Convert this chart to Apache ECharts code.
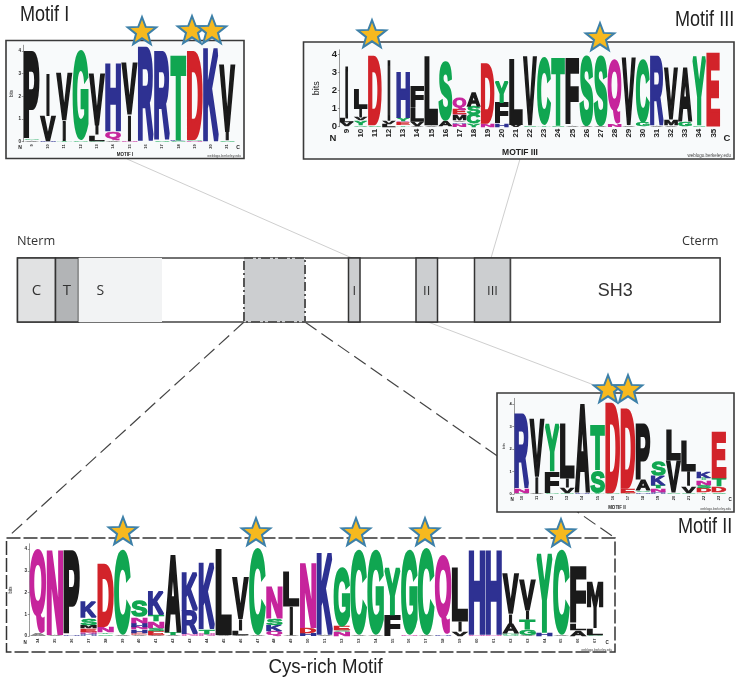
<!DOCTYPE html>
<html>
<head>
<meta charset="utf-8">
<style>html,body{margin:0;padding:0;background:#fff}#c{width:740px;height:687px}</style>
<script src="https://cdn.jsdelivr.net/npm/echarts@6/dist/echarts.min.js"></script>
</head>
<body>
<div id="c"></div>
<script>
// ---------- DATA: sequence logos, each column listed bottom to top as [residue, bits] ----------
const motif1Positions = ['9','10','11','12','13','14','15','16','17','18','19','20','21'];
const motif1Stacks = [
  [['A',.05],['S',.05],['P',3.87]],
  [['H',.03],['V',1.12],['I',1.9]],
  [['T',.03],['I',.9],['V',2.1]],
  [['S',.05],['G',3.98]],
  [['S',.03],['L',.27],['I',.42],['V',2.28]],
  [['A',.05],['Q',.42],['H',3.03]],
  [['N',.03],['I',1.15],['V',2.32]],
  [['R',4.15]],
  [['S',.07],['R',3.88]],
  [['S',.05],['K',.05],['T',3.8]],
  [['N',.05],['S',.03],['D',3.92]],
  [['K',4.15]],
  [['S',.07],['I',.35],['V',2.95]]
];
const motif2Positions = ['10','11','12','13','14','15','16','17','18','19','20','21','22','23'];
const motif2Stacks = [
  [['S',.05],['N',.2],['R',3.33]],
  [['A',.03],['I',.75],['V',2.55]],
  [['S',.05],['F',.95],['Y',2.14]],
  [['S',.03],['V',.27],['I',.4],['L',2.44]],
  [['H',.05],['A',3.98]],
  [['T',.05],['S',1.0],['T',2.01]],
  [['S',.05],['D',3.98]],
  [['T',.05],['E',.2],['D',3.55]],
  [['H',.08],['S',.07],['A',.47],['P',2.52]],
  [['H',.1],['N',.15],['T',.13],['K',.42],['S',.63]],
  [['S',.05],['V',1.45],['L',1.35]],
  [['S',.03],['V',.32],['I',.65],['L',1.4]],
  [['T',.07],['D',.18],['S',.15],['N',.2],['T',.1],['K',.29]],
  [['S',.08],['D',.27],['T',.35],['E',2.07]]
];
const motif3Positions = ['9','10','11','12','13','14','15','16','17','18','19','20','21','22','23','24','25','26','27','28','29','30','31','32','33','34','35'];
const motif3Stacks = [
  [['V',.25],['L',.2],['I',2.95]],
  [['C',.1],['Y',.25],['V',.15],['I',.5],['L',1.1]],
  [['S',.08],['D',3.84]],
  [['L',.15],['V',.15],['I',3.4]],
  [['T',.1],['E',.12],['Q',.1],['Y',.15],['H',2.58]],
  [['A',.05],['V',.25],['L',.8],['F',1.15]],
  [['A',.1],['L',3.85]],
  [['A',.32],['S',3.28]],
  [['N',.15],['H',.08],['A',.1],['M',.3],['Q',.05],['E',.27],['Q',.65]],
  [['Y',.15],['C',.52],['S',.45],['A',.78]],
  [['N',.18],['D',3.32]],
  [['H',.18],['F',1.15],['Y',1.25]],
  [['V',.12],['L',3.63]],
  [['S',.08],['V',3.8]],
  [['T',.08],['C',3.72]],
  [['S',.08],['T',3.82]],
  [['A',.08],['F',3.7]],
  [['A',.05],['S',3.9]],
  [['A',.05],['S',3.88]],
  [['N',.15],['Q',3.55]],
  [['A',.08],['V',3.72]],
  [['G',.2],['C',3.5]],
  [['A',.08],['R',3.85]],
  [['A',.1],['M',.28],['V',2.87]],
  [['G',.27],['A',2.98]],
  [['S',.08],['Y',3.85]],
  [['E',4.05]]
];
const cysPositions = ['34','35','36','37','38','39','40','41','42','43','44','45','46','47','48','49','50','51','52','53','54','55','56','57','58','59','60','61','62','63','64','65','66','67'];
const cysStacks = [
  [['A',.1],['Q',3.87]],
  [['A',.05],['N',3.95]],
  [['H',.05],['P',3.89]],
  [['H',.1],['N',.1],['E',.15],['M',.15],['S',.35],['K',.78]],
  [['S',.08],['T',.08],['N',.28],['D',2.94]],
  [['A',.05],['C',3.92]],
  [['A',.05],['E',.1],['H',.15],['N',.13],['H',.17],['N',.26],['S',.8]],
  [['A',.05],['E',.17],['S',.13],['N',.33],['T',.3],['K',1.1]],
  [['A',.05],['T',.12],['A',3.6]],
  [['N',.1],['R',1.08],['K',1.74]],
  [['N',.1],['T',.22],['K',3.11]],
  [['A',.05],['L',3.95]],
  [['A',.06],['L',.18],['I',.55],['V',1.95]],
  [['A',.05],['C',4.02]],
  [['Q',.2],['K',.3],['S',.3],['N',1.5]],
  [['A',.05],['I',1.3],['L',1.62]],
  [['H',.12],['D',.26],['N',3.0]],
  [['A',.06],['K',3.79]],
  [['N',.16],['S',.1],['E',.2],['G',2.7]],
  [['A',.05],['C',3.92]],
  [['A',.05],['G',3.92]],
  [['F',.97],['Y',2.23]],
  [['N',.05],['G',3.92]],
  [['A',.05],['C',4.0]],
  [['H',.09],['Q',3.63]],
  [['V',.2],['I',.46],['L',2.46]],
  [['N',.05],['H',3.92]],
  [['N',.05],['H',3.92]],
  [['G',.1],['A',.45],['I',.45],['V',1.85]],
  [['A',.05],['G',.26],['T',.45],['I',.4],['V',1.44]],
  [['H',.15],['Y',3.63]],
  [['A',.05],['C',3.92]],
  [['A',.25],['L',.32],['F',2.6]],
  [['S',.05],['L',.3],['I',1.0],['M',1.15]]
];
const bitTicks = [0,1,2,3,4];
// Protein domain bar: names and extents along the bar
const domainNames = ['C','T','S','Cys','I','II','III','SH3'];
const domainStart = [0,38,61,226.5,331,398.5,457,493];
const domainEnd = [38,61,144.5,287.5,342.5,420,493,702.5];
const barLength = 702.5;

// ---------- LAYOUT AND STYLE ----------
const residueColor = {
  A:'#1a1a1a',V:'#1a1a1a',L:'#1a1a1a',I:'#1a1a1a',P:'#1a1a1a',F:'#1a1a1a',M:'#1a1a1a',
  G:'#10a651',S:'#10a651',T:'#10a651',Y:'#10a651',C:'#10a651',
  R:'#2e3192',K:'#2e3192',H:'#2e3192',
  D:'#d2232a',E:'#d2232a',
  Q:'#c6249c',N:'#c6249c'
};
const logos = [
  {pos:motif1Positions,stacks:motif1Stacks,left:23.55,band:16.3,base:141.7,bit:22.7,xSize:4,xMargin:2.5,ySize:4.5,nameSize:4.5,nameGap:3},
  {pos:motif3Positions,stacks:motif3Stacks,left:339.65,band:14.1,base:126.7,bit:18.1,xSize:8,xMargin:2,ySize:9.5,nameSize:9,nameGap:7},
  {pos:motif2Positions,stacks:motif2Stacks,left:514.1,band:15.18,base:494,bit:22.5,xSize:3.8,xMargin:2,ySize:4,nameSize:4,nameGap:3},
  {pos:cysPositions,stacks:cysStacks,left:29.56,band:16.88,base:636,bit:21.7,xSize:4,xMargin:2.5,ySize:4.5,nameSize:4.5,nameGap:1}
];
const LOGO_FONT = 'bold 100px "Liberation Sans"';
const LOGO_STROKE = 7;
const sans = '"Liberation Sans"';
const myriad = '"Open Sans"';

const mctx = document.createElement('canvas').getContext('2d');
const metrics = {};
function glyph(ch){
  if(!metrics[ch]){
    mctx.font = LOGO_FONT; mctx.textBaseline='middle'; mctx.textAlign='left';
    const m = mctx.measureText(ch);
    metrics[ch] = {l:m.actualBoundingBoxLeft,r:m.actualBoundingBoxRight,a:m.actualBoundingBoxAscent,d:m.actualBoundingBoxDescent};
  }
  return metrics[ch];
}
function logoRender(stacks){
  return function(params, api){
    const i = api.value(0);
    const band = api.size([1,0])[0];
    const cx = api.coord([i,0])[0];
    let h = 0; const children = [];
    stacks[i].forEach(function(s){
      const y0 = api.coord([i,h])[1], y1 = api.coord([i,h+s[1]])[1];
      h += s[1];
      const g = glyph(s[0]);
      const w = s[0]==='I' ? band*0.2 : band*0.98;
      const L = LOGO_STROKE;
      const sx = w/(g.l+g.r+L), sy = (y0-y1)/(g.a+g.d+L);
      children.push({type:'text',silent:true,
        x:cx-w/2+(g.l+L/2)*sx, y:y0-(g.d+L/2)*sy, scaleX:sx, scaleY:sy,
        style:{text:s[0],x:0,y:0,font:LOGO_FONT,fill:residueColor[s[0]],stroke:residueColor[s[0]],lineWidth:L,
          opacity:s[1]<0.11?0.45:1,
          align:'left',verticalAlign:'middle',textAlign:'left',textVerticalAlign:'middle'}});
    });
    return {type:'group',children:children};
  };
}

// axes
const grids=[],xAxes=[],yAxes=[],series=[];
logos.forEach(function(m,k){
  const h = m.bit*4.25;
  grids.push({left:m.left,top:m.base-h,width:m.band*m.pos.length,height:h});
  xAxes.push({type:'category',gridIndex:k,data:m.pos,
    axisLine:{show:false},axisTick:{show:false},
    axisLabel:{rotate:90,fontSize:m.xSize,fontWeight:'bold',fontFamily:sans,color:'#222',margin:m.xMargin,interval:0,hideOverlap:false}});
  yAxes.push({type:'value',gridIndex:k,min:0,max:4.25,splitLine:{show:false},
    name:'bits',nameLocation:'middle',nameRotate:90,nameGap:m.nameGap,
    nameTextStyle:{fontSize:m.nameSize,fontFamily:sans,color:'#222'},
    axisLine:{show:true,lineStyle:{color:'#555',width:0.6}},
    axisTick:{show:true,length:1.8,customValues:bitTicks,lineStyle:{color:'#555',width:0.6}},
    axisLabel:{customValues:bitTicks,fontSize:m.ySize,fontWeight:'bold',fontFamily:sans,color:'#222',margin:2.5}});
  series.push({type:'custom',xAxisIndex:k,yAxisIndex:k,coordinateSystem:'cartesian2d',z:3,silent:true,clip:false,
    renderItem:logoRender(m.stacks),
    encode:{x:0,y:1},
    data:m.stacks.map(function(st,i){return [i,st.reduce(function(a,b){return a+b[1];},0)];})});
});

// domain bar
const barIdx = grids.length;
grids.push({left:17.5,top:258,width:barLength,height:64});
xAxes.push({type:'value',gridIndex:barIdx,min:0,max:barLength,show:false});
yAxes.push({type:'value',gridIndex:barIdx,min:0,max:1,show:false});
const domainStyle = {
  C:{fill:'#e1e2e3',stroke:'#333',font:'15px '+myriad,label:'C',dx:0},
  T:{fill:'#b2b4b6',stroke:'#333',font:'15px '+myriad,label:'T',dx:0},
  S:{fill:'#f2f3f4',stroke:null,font:'14px '+myriad,label:'S',dx:-20},
  Cys:{fill:'#ccced0',stroke:'#555',dash:[9,3,2,3],width:2,label:''},
  I:{fill:'#ccced0',stroke:'#333',font:'13px '+myriad,label:'I',dx:0},
  II:{fill:'#ccced0',stroke:'#333',font:'13px '+myriad,label:'II',dx:0},
  III:{fill:'#ccced0',stroke:'#333',font:'13px '+myriad,label:'III',dx:0},
  SH3:{fill:'#ffffff',stroke:'#444',font:'18px '+sans,label:'SH3',dx:0}
};
series.push({type:'custom',xAxisIndex:barIdx,yAxisIndex:barIdx,coordinateSystem:'cartesian2d',z:2,silent:true,clip:false,
  renderItem:function(params,api){
    const i=api.value(0), st=domainStyle[domainNames[i]];
    const p0=api.coord([domainStart[i],1]), p1=api.coord([domainEnd[i],0]);
    const ch=[];
    ch.push({type:'rect',shape:{x:p0[0],y:p0[1],width:p1[0]-p0[0],height:p1[1]-p0[1]},
      style:{fill:st.fill,stroke:st.stroke||'none',lineWidth:st.width||1.5,lineDash:st.dash||null}});
    if(st.label) ch.push({type:'text',x:(p0[0]+p1[0])/2+st.dx,y:(p0[1]+p1[1])/2+1,
      style:{text:st.label,font:st.font,fill:'#333',align:'center',verticalAlign:'middle',textAlign:'center',textVerticalAlign:'middle'}});
    return {type:'group',children:ch};
  },
  encode:{x:1,y:2},
  data:domainNames.map(function(n,i){return [i,domainStart[i],1];})
});

// stars (annotation layer): centre x, centre y
const starCenters = [[142,32],[192,31],[212,31],[372,35],[600,38],[608,390],[628,390],[123,532],[256,533],[356,533],[425,533],[561,534]];
function starPoints(cx,cy,r){
  const p=[];
  for(let i=0;i<10;i++){
    const a=-Math.PI/2+i*Math.PI/5, q=i%2?r*0.42:r;
    p.push([cx+q*Math.cos(a),cy+q*Math.sin(a)]);
  }
  return p;
}
series.push({type:'custom',coordinateSystem:'none',z:10,silent:true,
  renderItem:function(params,api){
    const c=starCenters[api.value(0)];
    return {type:'polygon',shape:{points:starPoints(c[0],c[1],15)},style:{fill:'#f6b91f',stroke:'#3d80a8',lineWidth:2,lineJoin:'miter'}};
  },
  data:starCenters.map(function(c,i){return [i];})
});

// frames, connectors, titles
function line(x1,y1,x2,y2,color,w,dash){return {type:'line',silent:true,shape:{x1:x1,y1:y1,x2:x2,y2:y2},style:{stroke:color,lineWidth:w,lineDash:dash||null}};}
function frame(x,y,w,h){return {type:'rect',silent:true,shape:{x:x,y:y,width:w,height:h},style:{fill:'#f8fafb',stroke:'#3a3a3a',lineWidth:1.6}};}
function label(t,x,y,font,align,color,sx){return {type:'text',silent:true,x:x,y:y,scaleX:sx||1,style:{text:t,font:font,fill:color||'#222',align:align||'center',verticalAlign:'middle',textAlign:align||'center',textVerticalAlign:'middle'}};}
const dashStyle=[14,6];
const elements=[
  line(127,159,352,258,'#cfcfcf',1),
  line(520,159,491,258,'#cfcfcf',1),
  line(428,322,594,385,'#cfcfcf',1),
  line(244,322,9,536,'#444',1.2,dashStyle),
  line(305,322,615,538,'#444',1.2,dashStyle),
  frame(6,40.5,238,118),
  frame(303.5,42,430.5,117),
  frame(497,393,237,119),
  {type:'rect',silent:true,shape:{x:6.5,y:538,width:608.5,height:114},style:{fill:'#fff',stroke:'#333',lineWidth:1.5,lineDash:[14,3]}},
  {type:'rect',silent:true,shape:{x:17.5,y:258,width:barLength,height:64},style:{fill:'#fff',stroke:'#444',lineWidth:1.5}},
  label('Motif I',20,15,'21.5px '+sans,'left','#222',0.84),
  label('Motif III',675,20,'21.5px '+sans,'left','#222',0.84),
  label('Motif II',678,527,'21.5px '+sans,'left','#222',0.84),
  label('Cys-rich Motif',325.5,667,'21px '+sans,'center','#222',0.89),
  label('Nterm',17,241,'13.5px '+myriad,'left','#333',0.94),
  label('Cterm',682,241,'13.5px '+myriad,'left','#333',0.94),
  label('MOTIF I',125,155,'bold 4.5px '+sans),
  label('MOTIF III',520,153,'bold 8.5px '+sans),
  label('MOTIF II',617,507.5,'bold 4.5px '+sans),
  label('weblogo.berkeley.edu',241,156,'3.5px '+sans,'right','#444'),
  label('weblogo.berkeley.edu',731,156,'4.5px '+sans,'right','#444'),
  label('weblogo.berkeley.edu',731,509,'3.2px '+sans,'right','#444'),
  label('weblogo.berkeley.edu',612,650,'3.2px '+sans,'right','#444'),
  label('N',20,147.5,'bold 5px '+sans),
  label('C',238,147.5,'bold 5px '+sans),
  label('N',333,138,'bold 9.5px '+sans),
  label('C',727,138,'bold 9.5px '+sans),
  label('N',512,500,'bold 4.5px '+sans),
  label('C',730,500,'bold 4.5px '+sans),
  label('N',25,642.7,'bold 4.5px '+sans),
  label('C',607,643,'bold 4.5px '+sans)
];

const chart = echarts.init(document.getElementById('c'),null,{renderer:'canvas'});
chart.setOption({
  animation:false,
  backgroundColor:'#fff',
  tooltip:{show:false},
  grid:grids,xAxis:xAxes,yAxis:yAxes,series:series,
  graphic:{z:0,elements:elements}
});
</script>
</body>
</html>
